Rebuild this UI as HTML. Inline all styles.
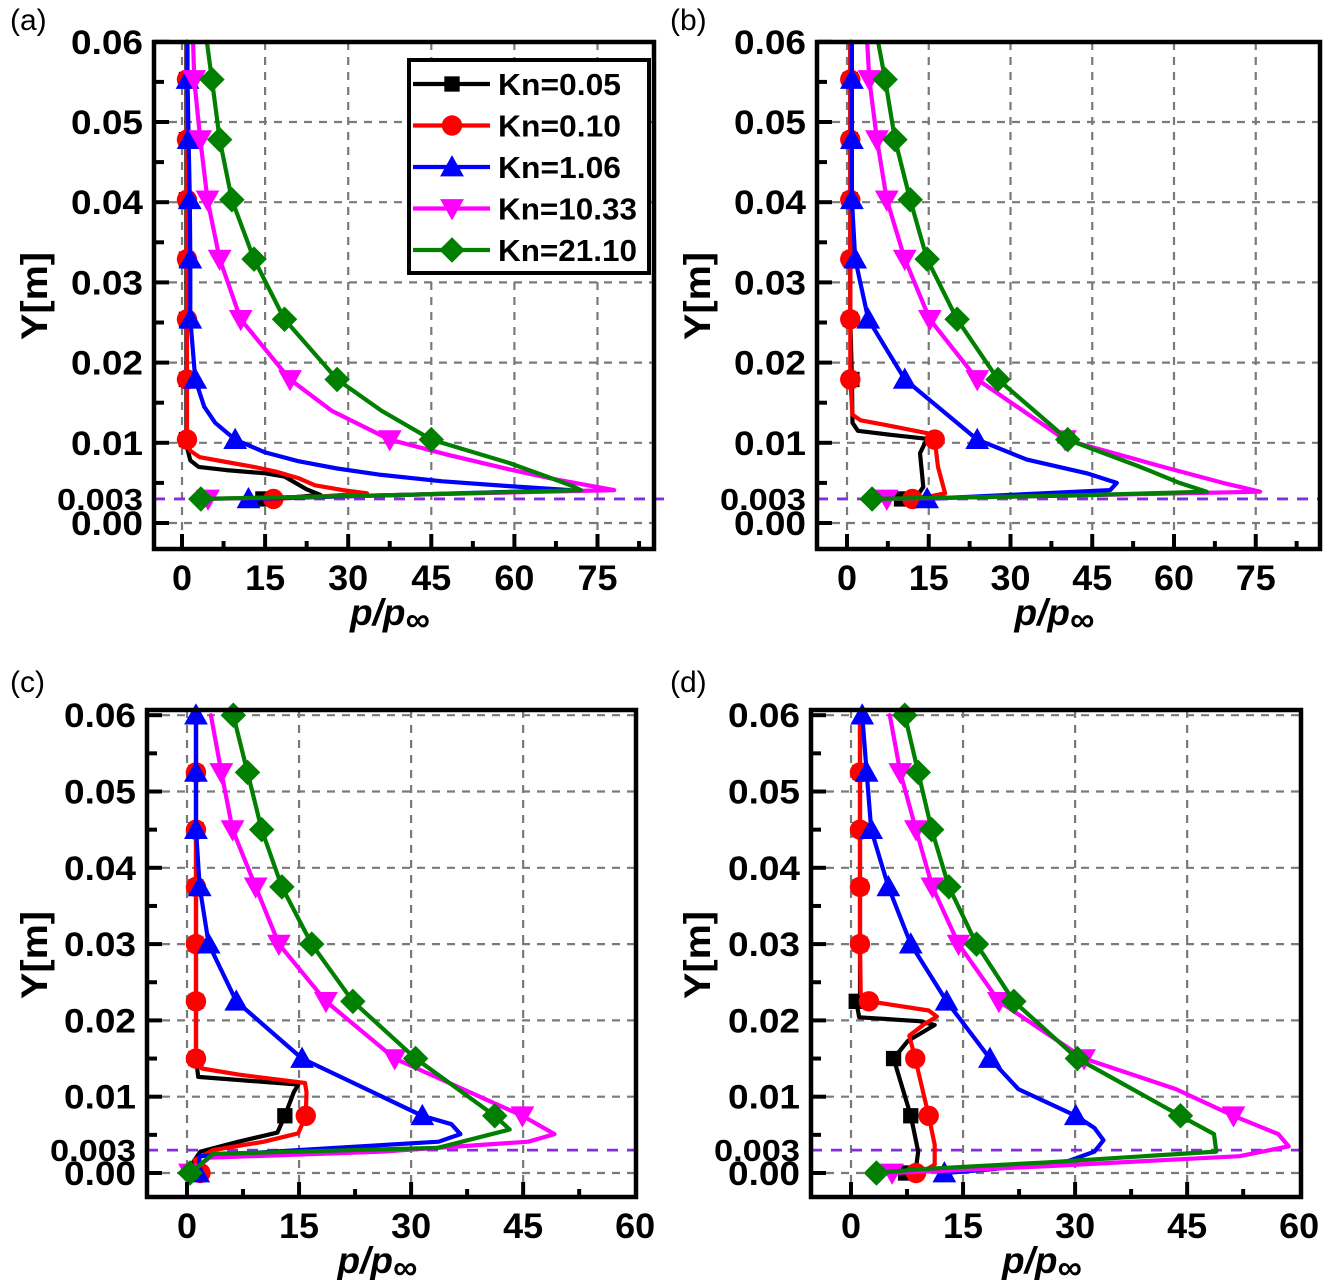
<!DOCTYPE html>
<html><head><meta charset="utf-8"><title>Pressure profiles</title>
<style>html,body{margin:0;padding:0;background:#fff;}svg{display:block;font-family:"Liberation Sans",Arial,sans-serif;}</style>
</head><body>
<svg id="fig" width="1329" height="1280" viewBox="0 0 1329 1280" xmlns="http://www.w3.org/2000/svg"></svg>
<script>
// ---------- data ----------
const xTickValsAB = [0,15,30,45,60,75];
const xTickLabelsAB = ['0','15','30','45','60','75'];
const xTickValsCD = [0,15,30,45,60];
const xTickLabelsCD = ['0','15','30','45','60'];
const yTickVals = [0,0.01,0.02,0.03,0.04,0.05,0.06];
const yTickLabels = ['0.00','0.01','0.02','0.03','0.04','0.05','0.06'];
const wallY = 0.003;
const seriesNames = ['Kn=0.05','Kn=0.10','Kn=1.06','Kn=10.33','Kn=21.10'];

// panel (a)
const aBlackY = [0.06,0.0553,0.0478,0.0403,0.0329,0.0254,0.0179,0.0104,0.0092,0.0078,0.007,0.0066,0.0062,0.0058,0.005,0.0042,0.0035,0.0032,0.003];
const aBlackP = [0.8,0.8,0.8,0.8,0.8,0.8,0.8,0.8,1.0,1.5,3,8,15,18.5,20.5,22.5,25,20,14.6];
const aBlackMk = [1,2,3,4,5,6,7,18];
const aRedY = [0.06,0.0553,0.0478,0.0403,0.0329,0.0254,0.0179,0.0104,0.009,0.0082,0.0076,0.007,0.0064,0.0056,0.0047,0.0041,0.0037,0.0033,0.003];
const aRedP = [0.9,0.9,0.9,0.9,0.9,0.9,0.9,0.9,1.5,3.2,8,13,17,21,24,29,33.4,25,16.5];
const aRedMk = [1,2,3,4,5,6,7,18];
const aBlueY = [0.06,0.0553,0.0478,0.0403,0.0329,0.0254,0.0179,0.0145,0.0125,0.0104,0.0088,0.0077,0.0068,0.006,0.0052,0.0046,0.0041,0.0035,0.003];
const aBlueP = [1,1,1.2,1.4,1.5,1.5,2.4,4,6,9.6,15,21,28,36,47,59,70,40,12];
const aBlueMk = [1,2,3,4,5,6,9,18];
const aMagY = [0.06,0.0553,0.0478,0.0403,0.0329,0.0254,0.0179,0.014,0.0104,0.0085,0.0067,0.0055,0.0046,0.0041,0.0035,0.003];
const aMagP = [2,2.2,3.3,4.6,6.8,10.6,19.5,27,37.5,48,59,67,74,78,40,4.7];
const aMagMk = [1,2,3,4,5,6,8,15];
const aGreenY = [0.06,0.0553,0.0478,0.0403,0.0329,0.0254,0.0179,0.014,0.0104,0.0075,0.0055,0.0046,0.0041,0.0035,0.003];
const aGreenP = [4.5,5.4,6.8,9,13,18.5,28,36,45,59,67,70.5,72,40,3.4];
const aGreenMk = [1,2,3,4,5,6,8,14];

// panel (b)
const bBlackY = [0.06,0.0553,0.0478,0.0403,0.0329,0.0254,0.0179,0.0125,0.0115,0.011,0.0105,0.0087,0.0045,0.0035,0.003];
const bBlackP = [0.6,0.6,0.6,0.6,0.6,0.6,0.9,1.0,2,8,14.7,13.4,14,13,10];
const bBlackMk = [1,2,3,4,5,6,14];
const bRedY = [0.06,0.0553,0.0478,0.0403,0.0329,0.0254,0.0179,0.0135,0.0128,0.0122,0.0112,0.0104,0.007,0.0037,0.0033,0.003];
const bRedP = [0.6,0.6,0.6,0.6,0.6,0.6,0.6,1.0,2.5,7.3,14.7,16.1,16.7,18,15,12];
const bRedMk = [1,2,3,4,5,6,11,15];
const bBlueY = [0.06,0.0553,0.0478,0.0403,0.0329,0.0254,0.0179,0.0104,0.0079,0.0062,0.005,0.0041,0.0035,0.003];
const bBlueP = [0.9,0.9,0.9,0.9,1.5,3.9,10.6,23.9,33,44,49.5,48.3,30,14.7];
const bBlueMk = [1,2,3,4,5,6,7,13];
const bMagY = [0.06,0.0553,0.0478,0.0403,0.0329,0.0254,0.0179,0.0104,0.007,0.005,0.0039,0.0034,0.003];
const bMagP = [3.7,4.1,5.5,7.3,10.6,15.2,23.9,40,58,69,75.8,40,7.3];
const bMagMk = [1,2,3,4,5,6,7,12];
const bGreenY = [0.06,0.0553,0.0478,0.0403,0.0329,0.0254,0.0179,0.0104,0.007,0.005,0.0039,0.0034,0.003];
const bGreenP = [5.7,7,8.8,11.6,14.7,20.2,27.7,40.5,53.8,61,66,40,4.6];
const bGreenMk = [1,2,3,4,5,6,7,12];

// panel (c)
const cBlackY = [0.06,0.0525,0.045,0.0375,0.03,0.0225,0.015,0.0126,0.0116,0.0106,0.0075,0.0053,0.0041,0.0028,0.0014,0];
const cBlackP = [1.2,1.2,1.2,1.2,1.2,1.2,1.2,1.5,14.9,14.3,13.1,12.1,6.9,1.8,0.8,1.5];
const cBlackMk = [1,2,3,4,5,6,10,15];
const cRedY = [0.06,0.0525,0.045,0.0375,0.03,0.0225,0.015,0.0137,0.0129,0.0118,0.0106,0.0075,0.0052,0.0041,0.003,0.0017,0];
const cRedP = [1.2,1.2,1.2,1.2,1.2,1.2,1.2,2,6.9,15.8,16,15.9,14.9,10.3,3.5,1,1.8];
const cRedMk = [1,2,3,4,5,6,11,16];
const cBlueY = [0.06,0.0525,0.045,0.0375,0.03,0.0225,0.015,0.0075,0.0064,0.0051,0.0041,0.003,0.0022,0];
const cBlueP = [1.2,1.2,1.2,1.7,2.9,6.6,15.4,31.5,35.4,36.6,33.7,14.9,1.7,1.5];
const cBlueMk = [0,1,2,3,4,5,6,7,13];
const cMagY = [0.06,0.0525,0.045,0.0375,0.03,0.0225,0.015,0.0075,0.0051,0.0041,0.0028,0.002,0];
const cMagP = [3.2,4.6,6.1,9.2,12.3,18.6,27.8,44.9,49.2,45.7,26,3,0.4];
const cMagMk = [1,2,3,4,5,6,7,12];
const cGreenY = [0.06,0.0525,0.045,0.0375,0.03,0.0225,0.015,0.0075,0.0057,0.0033,0.0025,0];
const cGreenP = [6.2,8.1,10,12.7,16.7,22.2,30.6,41.2,43.2,33.6,3.5,0.4];
const cGreenMk = [0,1,2,3,4,5,6,7,11];

// panel (d)
const dBlackY = [0.06,0.0525,0.045,0.0375,0.03,0.0235,0.0225,0.0204,0.0199,0.0194,0.0173,0.015,0.0075,0.0028,0.0007,0];
const dBlackP = [1.2,1.2,1.2,1.2,1.2,1.2,0.7,1.1,9.2,11.2,7.6,5.7,8,9,8.7,7.3];
const dBlackMk = [1,2,3,4,6,11,12,15];
const dRedY = [0.06,0.0525,0.045,0.0375,0.03,0.0235,0.0225,0.0213,0.0205,0.0195,0.018,0.015,0.0075,0.0037,0.0011,0.0004,0];
const dRedP = [1.2,1.2,1.2,1.2,1.2,1.3,2.4,10.4,11.5,9.8,7.8,8.6,10.4,11.2,11.2,10,8.7];
const dRedMk = [1,2,3,4,6,11,12,16];
const dBlueY = [0.06,0.0525,0.045,0.0375,0.03,0.0225,0.015,0.011,0.0075,0.0059,0.0043,0.0028,0.0014,0.0004,0];
const dBlueP = [1.5,2.1,2.7,5,8,12.8,18.6,22.4,30.1,32.6,33.8,32.6,28.6,17.8,12.5];
const dBlueMk = [0,1,2,3,4,5,6,8,14];
const dMagY = [0.06,0.0525,0.045,0.0375,0.03,0.0225,0.015,0.011,0.0075,0.0051,0.0035,0.0022,0.0009,0];
const dMagP = [5.2,6.6,8.7,10.9,14.4,19.8,31.2,43.5,51.2,57.2,58.6,52,26.4,5.5];
const dMagMk = [1,2,3,4,5,6,8,13];
const dGreenY = [0.06,0.0525,0.045,0.0375,0.03,0.0225,0.015,0.0075,0.0051,0.0028,0.0014,0.0005,0];
const dGreenP = [7.2,9,10.8,13.1,16.8,21.8,30.3,44.1,48.6,48.9,26.4,9.3,3.4];
const dGreenMk = [0,1,2,3,4,5,6,7,12];

// ---------- drawing ----------
const NS = 'http://www.w3.org/2000/svg';
const svg = document.getElementById('fig');
function el(tag, parent){ const e = document.createElementNS(NS, tag); parent.appendChild(e); return e; }
function set(e, k, v){ e.setAttribute(k, v); }

const styles = [
  {color:'#000000', shape:'square'},
  {color:'#ff0000', shape:'circle'},
  {color:'#0000ff', shape:'up'},
  {color:'#ff00ff', shape:'down'},
  {color:'#007f00', shape:'diamond'}
];

const panels = [
  {id:'a', L:154, T:42, R:654, B:549, x0:182, kx:5.54, y0:523, ky:8020, xv:xTickValsAB, xl:xTickLabelsAB, xmax:85,
   lab:[10,30], yl:[15,296],
   ser:[[aBlackP,aBlackY,aBlackMk],[aRedP,aRedY,aRedMk],[aBlueP,aBlueY,aBlueMk],[aMagP,aMagY,aMagMk],[aGreenP,aGreenY,aGreenMk]], legend:true},
  {id:'b', L:817, T:42, R:1320, B:549, x0:847, kx:5.45, y0:523, ky:8020, xv:xTickValsAB, xl:xTickLabelsAB, xmax:85,
   lab:[670,30], yl:[678,296],
   ser:[[bBlackP,bBlackY,bBlackMk],[bRedP,bRedY,bRedMk],[bBlueP,bBlueY,bBlueMk],[bMagP,bMagY,bMagMk],[bGreenP,bGreenY,bGreenMk]]},
  {id:'c', L:147, T:710, R:636, B:1197, x0:187, kx:7.47, y0:1173, ky:7630, xv:xTickValsCD, xl:xTickLabelsCD, xmax:60,
   lab:[10,692], yl:[15,955],
   ser:[[cBlackP,cBlackY,cBlackMk],[cRedP,cRedY,cRedMk],[cBlueP,cBlueY,cBlueMk],[cMagP,cMagY,cMagMk],[cGreenP,cGreenY,cGreenMk]]},
  {id:'d', L:811, T:710, R:1301, B:1197, x0:851, kx:7.47, y0:1173, ky:7630, xv:xTickValsCD, xl:xTickLabelsCD, xmax:60,
   lab:[670,692], yl:[678,955],
   ser:[[dBlackP,dBlackY,dBlackMk],[dRedP,dRedY,dRedMk],[dBlueP,dBlueY,dBlueMk],[dMagP,dMagY,dMagMk],[dGreenP,dGreenY,dGreenMk]]}
];

function drawMarker(g, shape, color, cx, cy, s){
  let m;
  if(shape==='circle'){ m = el('circle', g); set(m,'cx',cx); set(m,'cy',cy); set(m,'r',s*0.6); }
  else if(shape==='square'){ m = el('rect', g); set(m,'x',cx-s*0.45); set(m,'y',cy-s*0.45); set(m,'width',s*0.9); set(m,'height',s*0.9); }
  else {
    let pts;
    if(shape==='up') pts=[[cx,cy-s*0.7],[cx+s*0.7,cy+s*0.55],[cx-s*0.7,cy+s*0.55]];
    else if(shape==='down') pts=[[cx,cy+s*0.7],[cx+s*0.7,cy-s*0.55],[cx-s*0.7,cy-s*0.55]];
    else pts=[[cx,cy-s*0.75],[cx+s*0.75,cy],[cx,cy+s*0.75],[cx-s*0.75,cy]];
    m = el('polygon', g); set(m,'points',pts.map(p=>p.join(',')).join(' '));
  }
  set(m,'fill',color);
  return m;
}

panels.forEach(P => {
  const X = v => P.x0 + P.kx*v;
  const Y = v => P.y0 - P.ky*v;
  const g = el('g', svg);
  
  

  P.xv.forEach(v => {
    const x = X(v); if(x<=P.L+2||x>=P.R-2) return;
    const l = el('line', g); set(l,'x1',x); set(l,'x2',x); set(l,'y1',P.T); set(l,'y2',P.B);
    set(l,'stroke','#7a7a7a'); set(l,'stroke-width',2.2); set(l,'stroke-dasharray','8,7');
    
    
  });
  yTickVals.forEach(v => {
    const y = Y(v); if(y<=P.T+3||y>=P.B-2) return;
    const l = el('line', g); set(l,'x1',P.L); set(l,'x2',P.R); set(l,'y1',y); set(l,'y2',y);
    set(l,'stroke','#7a7a7a'); set(l,'stroke-width',2.2); set(l,'stroke-dasharray','8,7');
    
    
  });
  const wl = el('line', g); set(wl,'x1',P.L); set(wl,'x2',P.R+ (P.id==='a'?10:0)); set(wl,'y1',Y(wallY)); set(wl,'y2',Y(wallY));
  set(wl,'stroke','#8a2be2'); set(wl,'stroke-width',2.8); set(wl,'stroke-dasharray','11,9');
  
  

  P.ser.forEach((S, si) => {
    const [ps, ys, mk] = S;
    const st = styles[si];
    const sg = el('g', g);
    
    
    const pl = el('polyline', sg);
    set(pl,'points', ps.map((p,i)=> X(p).toFixed(1)+','+Y(ys[i]).toFixed(1)).join(' '));
    set(pl,'fill','none'); set(pl,'stroke',st.color); set(pl,'stroke-width',4.2);
    set(pl,'stroke-linejoin','round'); set(pl,'stroke-linecap','round');
    
    
    const s = 17;
    mk.forEach(i => {
      const m = drawMarker(sg, st.shape, st.color, X(ps[i]), Y(ys[i]), s);
      
      
    });
  });

  const box = el('rect', g); set(box,'x',P.L); set(box,'y',P.T); set(box,'width',P.R-P.L); set(box,'height',P.B-P.T);
  set(box,'fill','none'); set(box,'stroke','#000'); set(box,'stroke-width',4.5);
  
  

  for(let v=0; v<=P.xmax+0.01; v+=7.5){
    const x = X(v); if(x>=P.R-2) break;
    const major = Math.abs(v/15 - Math.round(v/15))<1e-6;
    const t = el('line', g); set(t,'x1',x); set(t,'x2',x); set(t,'y1',P.B); set(t,'y2',P.B-(major?15:8));
    set(t,'stroke','#000'); set(t,'stroke-width',4);
    
    
  }
  P.xv.forEach((v,i) => {
    const t = el('text', g); set(t,'x',X(v)); set(t,'y',P.B+41); set(t,'text-anchor','middle');
    set(t,'font-size',35); set(t,'font-weight','bold'); set(t,'textLength',20*P.xl[i].length); set(t,'lengthAdjust','spacingAndGlyphs');
    t.textContent = P.xl[i];
    
    
  });
  for(let k=0; k<=12; k++){
    const v = k*0.005; const y = Y(v);
    const major = k%2===0;
    const t = el('line', g); set(t,'x1',P.L); set(t,'x2',P.L+(major?15:10)); set(t,'y1',y); set(t,'y2',y);
    set(t,'stroke','#000'); set(t,'stroke-width',4);
    
    
  }
  yTickVals.forEach((v,i) => {
    const t = el('text', g); set(t,'x',P.L-11); set(t,'y',Y(v)+12); set(t,'text-anchor','end');
    set(t,'font-size',34); set(t,'font-weight','bold'); set(t,'textLength',72); set(t,'lengthAdjust','spacingAndGlyphs');
    t.textContent = yTickLabels[i];
    
    
  });
  const w = el('text', g); set(w,'x',P.L-11); set(w,'y',Y(wallY)+11); set(w,'text-anchor','end');
  set(w,'font-size',31); set(w,'font-weight','bold'); set(w,'textLength',86); set(w,'lengthAdjust','spacingAndGlyphs');
  w.textContent = '0.003';
  
  

  const yt = el('text', g); set(yt,'x',0); set(yt,'y',0); set(yt,'text-anchor','middle');
  set(yt,'font-size',37); set(yt,'font-weight','bold'); set(yt,'textLength',88); set(yt,'lengthAdjust','spacingAndGlyphs');
  set(yt,'transform','translate('+(P.yl[0]+32)+','+P.yl[1]+') rotate(-90)');
  yt.textContent = 'Y[m]';
  
  
  const xc = (P.L+P.R)/2 - 6;
  const xt = el('text', g); set(xt,'x',xc-48); set(xt,'y',P.B+76);
  set(xt,'font-size',37); set(xt,'font-weight','bold'); set(xt,'font-style','italic');
  const t1 = el('tspan', xt); t1.textContent = 'p/p';
  const t2 = el('tspan', xt); set(t2,'font-size',34); set(t2,'dy',6); t2.textContent = '\u221E';
  
  
  const pl = el('text', g); set(pl,'x',P.lab[0]); set(pl,'y',P.lab[1]); set(pl,'font-size',30);
  pl.textContent = '('+P.id+')';
  
  

  if(P.legend){
    const lg = el('g', g);
    
    
    const lb = el('rect', lg); set(lb,'x',409); set(lb,'y',60); set(lb,'width',240); set(lb,'height',213);
    set(lb,'fill','#fff'); set(lb,'stroke','#000'); set(lb,'stroke-width',4);
    
    
    seriesNames.forEach((n,i) => {
      const y = 84 + i*41.5;
      const eg = el('g', lg);
      
      
      const ln = el('line', eg); set(ln,'x1',413); set(ln,'x2',490); set(ln,'y1',y); set(ln,'y2',y);
      set(ln,'stroke',styles[i].color); set(ln,'stroke-width',4.2);
      drawMarker(eg, styles[i].shape, styles[i].color, 452, y, 17);
      const tx = el('text', eg); set(tx,'x',498); set(tx,'y',y+11); set(tx,'font-size',31); set(tx,'font-weight','bold');
      set(tx,'textLength', n.length===7?123:139); set(tx,'lengthAdjust','spacingAndGlyphs');
      tx.textContent = n;
    });
  }
});
</script>
</body></html>
